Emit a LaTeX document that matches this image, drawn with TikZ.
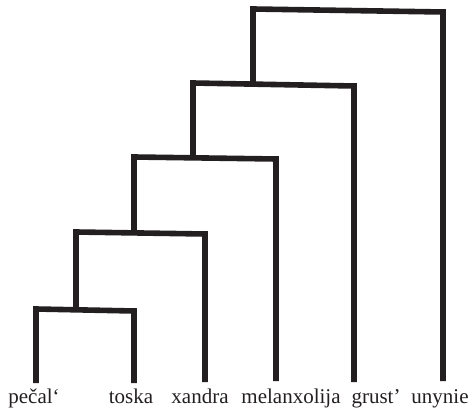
\documentclass[tikz,border=0pt]{standalone}
\usepackage{fontspec}
\setmainfont{Liberation Serif}
\definecolor{ink}{HTML}{231F20}
\begin{document}
\begin{tikzpicture}[x=1pt,y=-1pt,
  br/.style={draw=ink,line width=5.6pt,line join=miter,line cap=butt},
  lab/.style={anchor=base,inner sep=0pt,text=ink,font=\fontsize{21}{21}\selectfont}]
\useasboundingbox (0,0) rectangle (471,411);
% leaf ends
\coordinate (l1) at (36,383);
\coordinate (l2) at (134,383);
\coordinate (l3) at (205,382);
\coordinate (l4) at (276,381);
\coordinate (l5) at (354,382);
\coordinate (l6) at (443,381);
% merge points (stem tops)
\coordinate (m1) at (76,310);
\coordinate (m2) at (134,233);
\coordinate (m3) at (193,158);
\coordinate (m4) at (253,84);
% clusters
\draw[br] (l1) -- (36,309) -- (134,311) -- (l2);
\draw[br] (m1) -- (76,232) -- (205,234) -- (l3);
\draw[br] (m2) -- (134,157) -- (276,159) -- (l4);
\draw[br] (m3) -- (193,83) -- (354,86) -- (l5);
\draw[br] (m4) -- (253,9) -- (443,12) -- (l6);
% labels
\node[lab] (t1) at (34,403) {pečal‘};
\node[lab] (t2) at (131,403) {toska};
\node[lab] (t3) at (200,403) {xandra};
\node[lab] (t4) at (291,403) {melanxolija};
\node[lab] (t5) at (376,403) {grust’};
\node[lab] (t6) at (440,403) {unynie};
\end{tikzpicture}
\end{document}
